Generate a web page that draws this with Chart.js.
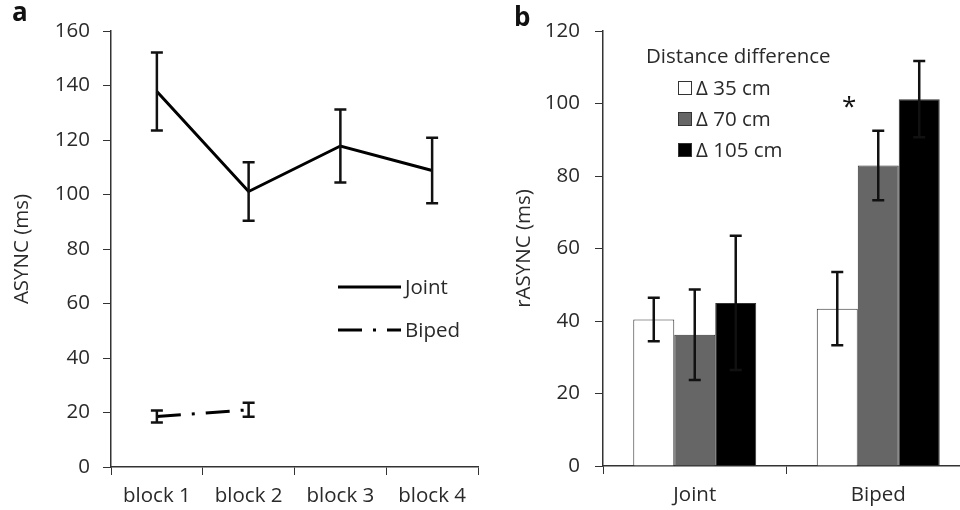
<!DOCTYPE html>
<html lang="en">
<head>
  <meta charset="UTF-8">
  <title>ASYNC by block and rASYNC by distance difference</title>
  <script src="https://cdn.jsdelivr.net/npm/chart.js"></script>
  <style>
    html, body {
      margin: 0;
      padding: 0;
      width: 960px;
      height: 510px;
      overflow: hidden;
      background: #ffffff;
    }
    .panel {
      position: absolute;
      top: 0;
      height: 510px;
    }
    #panelA { left: 0; width: 480px; }
    #panelB { left: 480px; width: 490px; }
    .tag {
      position: absolute;
      font-family: "Open Sans", sans-serif;
      font-weight: bold;
      font-size: 26px;
      line-height: 26px;
      color: #111;
    }
  </style>
</head>
<body>
  <div class="panel" id="panelA"><canvas id="chartA"></canvas></div>
  <div class="panel" id="panelB"><canvas id="chartB"></canvas></div>
  <div class="tag" style="left:12px; top:-2px;">a</div>
  <div class="tag" style="left:514px; top:3px;">b</div>

  <script>
    // panel a: ASYNC per block
    const blocks = ["block 1", "block 2", "block 3", "block 4"];
    const jointAsync = [137.8, 101.1, 117.8, 108.8];
    const jointAsyncErr = [14.3, 10.7, 13.4, 12];
    const bipedAsync = [18.5, 21, null, null];
    const bipedAsyncErr = [2.2, 2.6, null, null];
    const asyncMax = 160;
    const asyncStep = 20;

    // panel b: rASYNC per condition and distance difference
    const conditions = ["Joint", "Biped"];
    const distances = ["\u0394 35 cm", "\u0394 70 cm", "\u0394 105 cm"];
    const rAsync35 = [40.4, 43.4];
    const rAsync35Err = [6, 10.1];
    const rAsync70 = [36.2, 82.9];
    const rAsync70Err = [12.5, 9.6];
    const rAsync105 = [45, 101.2];
    const rAsync105Err = [18.5, 10.5];
    const rAsyncMax = 120;
    const rAsyncStep = 20;

    const FONT = "'Open Sans', sans-serif";
    const FSIZE = 20.5;
    const tickFont = { family: FONT, size: FSIZE };
    const textColor = "#2a2a2a";
    const axisColor = "#333";

    // error bars for every dataset that carries an "errors" array
    const errorBars = {
      id: "errorBars",
      afterDatasetsDraw(chart) {
        const ctx = chart.ctx;
        const y = chart.scales.y;
        ctx.save();
        ctx.strokeStyle = "#111";
        ctx.lineWidth = 2.5;
        ctx.setLineDash([]);
        chart.data.datasets.forEach((ds, i) => {
          if (!ds.errors) return;
          chart.getDatasetMeta(i).data.forEach((el, j) => {
            const v = ds.data[j];
            const e = ds.errors[j];
            if (v == null || e == null) return;
            const x = el.x;
            const top = y.getPixelForValue(v + e);
            const bot = y.getPixelForValue(v - e);
            ctx.beginPath();
            ctx.moveTo(x, top); ctx.lineTo(x, bot);
            ctx.moveTo(x - 6, top); ctx.lineTo(x + 6, top);
            ctx.moveTo(x - 6, bot); ctx.lineTo(x + 6, bot);
            ctx.stroke();
          });
        });
        ctx.restore();
      }
    };

    const lineLegend = {
      id: "lineLegend",
      afterDraw(chart) {
        const ctx = chart.ctx;
        ctx.save();
        ctx.font = FSIZE + "px " + FONT;
        ctx.fillStyle = textColor;
        ctx.textBaseline = "middle";
        const rows = [287, 330];
        chart.data.datasets.forEach((ds, i) => {
          const yy = rows[i];
          ctx.strokeStyle = ds.borderColor;
          ctx.lineWidth = ds.borderWidth;
          ctx.setLineDash(ds.borderDash || []);
          ctx.beginPath();
          ctx.moveTo(338, yy);
          ctx.lineTo(401, yy);
          ctx.stroke();
          ctx.setLineDash([]);
          ctx.fillText(ds.label, 405, yy + 1);
        });
        ctx.restore();
      }
    };

    new Chart(document.getElementById("chartA"), {
      type: "line",
      data: {
        labels: blocks,
        datasets: [
          {
            label: "Joint",
            data: jointAsync,
            errors: jointAsyncErr,
            borderColor: "#000",
            borderWidth: 3,
            pointRadius: 0,
            tension: 0
          },
          {
            label: "Biped",
            data: bipedAsync,
            errors: bipedAsyncErr,
            borderColor: "#000",
            borderWidth: 3,
            borderDash: [24, 11, 3, 11],
            pointRadius: 0,
            tension: 0
          }
        ]
      },
      options: {
        responsive: true,
        maintainAspectRatio: false,
        animation: false,
        layout: { padding: { top: 31, right: 2, bottom: 0, left: 0 } },
        plugins: {
          legend: { display: false },
          tooltip: { enabled: false }
        },
        scales: {
          x: {
            offset: true,
            grid: { offset: true, drawOnChartArea: false, tickLength: 8, color: axisColor },
            border: { color: axisColor, width: 1.5 },
            ticks: { color: textColor, font: tickFont, padding: 9 },
            afterFit(s) { s.height = 43; }
          },
          y: {
            min: 0,
            max: asyncMax,
            grid: { drawOnChartArea: false, tickLength: 8, color: axisColor },
            border: { color: axisColor, width: 1.5 },
            ticks: { stepSize: asyncStep, color: textColor, font: tickFont, padding: 13 },
            title: {
              display: true,
              text: "ASYNC (ms)",
              color: textColor,
              font: { family: FONT, size: FSIZE },
              padding: { top: 10, bottom: 0 }
            },
            afterFit(s) { s.width = 111; }
          }
        }
      },
      plugins: [errorBars, lineLegend]
    });

    const barLegend = {
      id: "barLegend",
      afterDraw(chart) {
        const ctx = chart.ctx;
        ctx.save();
        ctx.font = FSIZE + "px " + FONT;
        ctx.fillStyle = textColor;
        ctx.textBaseline = "middle";
        ctx.fillText("Distance difference", 166, 57);
        const rows = [88, 119, 150];
        chart.data.datasets.forEach((ds, i) => {
          const yy = rows[i];
          ctx.fillStyle = ds.backgroundColor;
          ctx.fillRect(198, yy - 7, 14, 14);
          ctx.strokeStyle = "#333";
          ctx.lineWidth = 1;
          ctx.strokeRect(198.5, yy - 6.5, 13, 13);
          ctx.fillStyle = textColor;
          ctx.fillText(ds.label, 216, yy + 1);
        });
        // significance marker next to the Biped group
        const x = chart.scales.x.getPixelForValue(1) - 29;
        const y = chart.scales.y.getPixelForValue(101);
        ctx.font = "26px " + FONT;
        ctx.textAlign = "center";
        ctx.textBaseline = "alphabetic";
        ctx.fillStyle = "#111";
        ctx.fillText("*", x, y + 15);
        ctx.restore();
      }
    };

    const barStyle = { borderColor: "#333", borderWidth: 1, categoryPercentage: 0.67, barPercentage: 1.0 };

    new Chart(document.getElementById("chartB"), {
      type: "bar",
      data: {
        labels: conditions,
        datasets: [
          Object.assign({ label: distances[0], data: rAsync35, errors: rAsync35Err, backgroundColor: "#ffffff" }, barStyle),
          Object.assign({ label: distances[1], data: rAsync70, errors: rAsync70Err, backgroundColor: "#666666" }, barStyle),
          Object.assign({ label: distances[2], data: rAsync105, errors: rAsync105Err, backgroundColor: "#000000" }, barStyle)
        ]
      },
      options: {
        responsive: true,
        maintainAspectRatio: false,
        animation: false,
        layout: { padding: { top: 31, right: 0, bottom: 0, left: 0 } },
        plugins: {
          legend: { display: false },
          tooltip: { enabled: false }
        },
        scales: {
          x: {
            grid: { offset: true, drawOnChartArea: false, tickLength: 8, color: axisColor },
            border: { color: axisColor, width: 1.5 },
            ticks: { color: textColor, font: tickFont, padding: 9 },
            afterFit(s) { s.height = 44; }
          },
          y: {
            min: 0,
            max: rAsyncMax,
            grid: { drawOnChartArea: false, tickLength: 8, color: axisColor },
            border: { color: axisColor, width: 1.5 },
            ticks: { stepSize: rAsyncStep, color: textColor, font: tickFont, padding: 15 },
            title: {
              display: true,
              text: "rASYNC (ms)",
              color: textColor,
              font: { family: FONT, size: FSIZE },
              padding: { top: 32, bottom: 0 }
            },
            afterFit(s) { s.width = 123; }
          }
        }
      },
      plugins: [errorBars, barLegend]
    });
  </script>
</body>
</html>
